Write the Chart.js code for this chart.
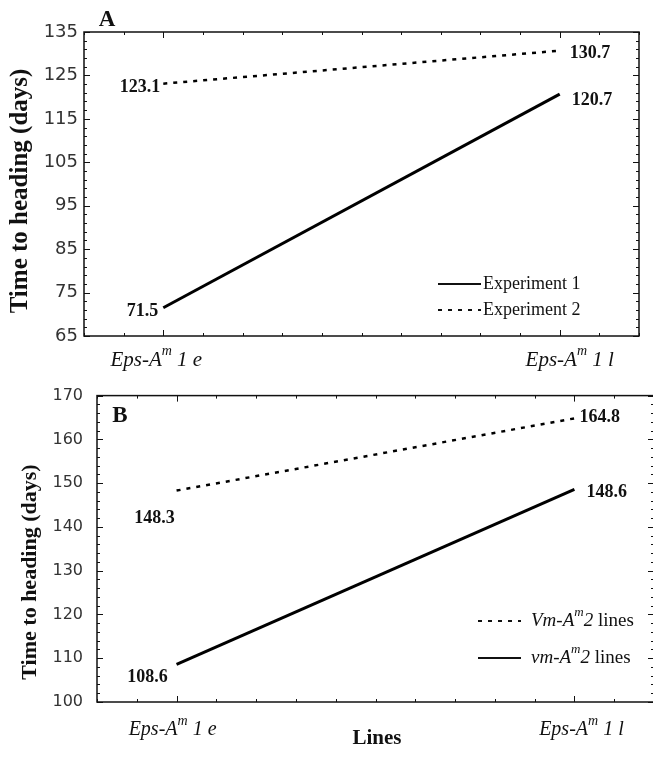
<!DOCTYPE html>
<html>
<head>
<meta charset="utf-8">
<script src="https://cdn.jsdelivr.net/npm/chart.js@4.4.1/dist/chart.umd.min.js"></script>
<style>
  html, body { margin: 0; padding: 0; background: #fff; width: 653px; height: 767px; overflow: hidden; }
  .panel { position: absolute; left: 0; }
</style>
</head>
<body>
<div class="panel" style="top:0"><canvas id="chartA" width="653" height="372"></canvas></div>
<div class="panel" style="top:372px"><canvas id="chartB" width="656" height="395"></canvas></div>
<script>
// x positions of the two Eps-Am1 lines and their tick labels (*...* = italic, ^m = superscript)
const lineCategories = [0, 1];
const tickLabels = ['*Eps-A^m 1 e*', '*Eps-A^m 1 l*'];

// Panel A
const exp1Values = [71.5, 120.7];
const exp2Values = [123.1, 130.7];
const panelALabels = ['Experiment 1', 'Experiment 2'];
const panelAYTicks = [65, 135];

// Panel B
const vmUpperValues = [148.3, 164.8];
const vmLowerValues = [108.6, 148.6];
const panelBLabels = ['*Vm-A^m2* lines', '*vm-A^m2* lines'];
const panelBYTicks = [100, 170];

const SERIF = '"Liberation Serif", "Times New Roman", serif';

function pts(values) {
  return values.map((v, i) => ({ x: lineCategories[i], y: v }));
}

// split "*Eps-A^m 1 e*" into runs
function parseRich(text) {
  const parts = [];
  let italic = false;
  for (let i = 0; i < text.length; i++) {
    const c = text[i];
    if (c === '*') { italic = !italic; continue; }
    if (c === '^') { parts.push({ t: text[++i], italic, sup: true }); continue; }
    const last = parts[parts.length - 1];
    if (last && !last.sup && last.italic === italic) last.t += c;
    else parts.push({ t: c, italic, sup: false });
  }
  return parts;
}

function drawRich(ctx, text, x, y, size, align, weight) {
  const parts = parseRich(text);
  const fontFor = p => `${p.italic ? 'italic ' : ''}${weight || 'normal'} ${p.sup ? Math.round(size * 0.68) : size}px ${SERIF}`;
  let w = 0;
  parts.forEach(p => { ctx.font = fontFor(p); p.w = ctx.measureText(p.t).width; w += p.w; });
  let cx = align === 'center' ? x - w / 2 : align === 'right' ? x - w : x;
  ctx.textAlign = 'left';
  ctx.textBaseline = 'middle';
  parts.forEach(p => {
    ctx.font = fontFor(p);
    ctx.fillText(p.t, cx, p.sup ? y - size * 0.42 : y);
    cx += p.w;
  });
}

const panelDecor = {
  id: 'panelDecor',
  afterDatasetsDraw(chart, args, opts) {
    const { ctx, chartArea: a, scales: { x, y } } = chart;
    ctx.save();
    ctx.fillStyle = '#111';
    ctx.strokeStyle = '#111';

    // frame
    ctx.lineWidth = 1.5;
    ctx.strokeRect(a.left, a.top, a.right - a.left, a.bottom - a.top);

    // inward tick marks on all four sides
    ctx.lineWidth = 1;
    ctx.beginPath();
    for (let v = y.min; v <= y.max + 0.001; v += 2) {
      const py = Math.round(y.getPixelForValue(v)) + 0.5;
      const len = (v - y.min) % 10 === 0 ? 6 : 3;
      ctx.moveTo(a.left, py); ctx.lineTo(a.left + len, py);
      ctx.moveTo(a.right, py); ctx.lineTo(a.right - len, py);
    }
    for (let v = -0.2; v <= 1.2 + 0.001; v += 0.1) {
      const px = Math.round(x.getPixelForValue(v)) + 0.5;
      const len = Math.abs(v - Math.round(v)) < 0.01 ? 6 : 3;
      ctx.moveTo(px, a.bottom); ctx.lineTo(px, a.bottom - len);
      ctx.moveTo(px, a.top); ctx.lineTo(px, a.top + len);
    }
    ctx.stroke();

    // x tick labels
    tickLabels.forEach((t, i) => {
      drawRich(ctx, t, x.getPixelForValue(lineCategories[i]) + opts.tickDx[i], opts.tickY, opts.tickSize, 'center');
    });

    // value labels next to line ends
    chart.data.datasets.forEach((ds, di) => {
      const meta = chart.getDatasetMeta(di);
      ds.data.forEach((d, i) => {
        const p = meta.data[i];
        const lab = opts.valueLabels[di][i];
        drawRich(ctx, d.y.toFixed(1), p.x + lab.dx, p.y + lab.dy, opts.valueSize, lab.align, 'bold');
      });
    });

    // legend inside the plot
    opts.legend.forEach(item => {
      const ds = chart.data.datasets[item.ds];
      ctx.beginPath();
      ctx.setLineDash(ds.borderDash || []);
      ctx.lineWidth = ds.borderDash && ds.borderDash.length ? 2 : 2.2;
      ctx.moveTo(opts.legendLine[0], item.y);
      ctx.lineTo(opts.legendLine[1], item.y);
      ctx.stroke();
      ctx.setLineDash([]);
      drawRich(ctx, ds.label, opts.legendText, item.y, opts.legendSize, 'left');
    });

    // panel letter
    ctx.font = `bold 23px ${SERIF}`;
    ctx.textAlign = 'center';
    ctx.textBaseline = 'middle';
    ctx.fillText(opts.letter, opts.letterPos[0], opts.letterPos[1]);

    // y axis title
    ctx.save();
    ctx.translate(opts.yTitlePos[0], opts.yTitlePos[1]);
    ctx.rotate(-Math.PI / 2);
    ctx.font = `bold ${opts.yTitleSize}px ${SERIF}`;
    ctx.fillText('Time to heading (days)', 0, 0);
    ctx.restore();

    // x axis title
    if (opts.xTitle) {
      ctx.font = `bold 21px ${SERIF}`;
      ctx.fillText(opts.xTitle, opts.xTitlePos[0], opts.xTitlePos[1]);
    }
    ctx.restore();
  }
};

function makeChart(id, datasets, yRange, cfg) {
  return new Chart(document.getElementById(id).getContext('2d'), {
    type: 'line',
    data: { datasets },
    options: {
      responsive: false,
      animation: false,
      devicePixelRatio: 1,
      layout: { padding: cfg.padding },
      elements: { point: { radius: 0 }, line: { tension: 0, borderCapStyle: 'butt' } },
      scales: {
        x: {
          type: 'linear', min: -0.2, max: 1.2,
          ticks: { display: false },
          grid: { display: false, drawTicks: false },
          border: { display: false },
          afterFit: s => { s.height = cfg.xHeight; }
        },
        y: {
          min: yRange[0], max: yRange[1],
          ticks: {
            stepSize: 10, padding: cfg.tickPad, color: '#333',
            font: { family: '"DejaVu Sans", sans-serif', size: cfg.tickFont }
          },
          grid: { display: false, drawTicks: false },
          border: { display: false },
          afterFit: s => { s.width = cfg.yWidth; }
        }
      },
      plugins: {
        legend: { display: false },
        tooltip: { enabled: false },
        panelDecor: cfg.decor
      }
    },
    plugins: [panelDecor]
  });
}

makeChart('chartA', [
  { label: panelALabels[0], data: pts(exp1Values), borderColor: '#000', borderWidth: 3 },
  { label: panelALabels[1], data: pts(exp2Values), borderColor: '#000', borderWidth: 2.5, borderDash: [4, 6] }
], panelAYTicks, {
  padding: { top: 32, right: 14, bottom: 0, left: 0 },
  xHeight: 36, yWidth: 84, tickPad: 6, tickFont: 18,
  decor: {
    letter: 'A', letterPos: [107, 20],
    yTitlePos: [21, 191], yTitleSize: 25,
    tickY: 360, tickSize: 21, tickDx: [-7, 10], valueSize: 18,
    valueLabels: [
      [{ dx: -5, dy: 4, align: 'right' }, { dx: 12, dy: 6, align: 'left' }],
      [{ dx: -3, dy: 4, align: 'right' }, { dx: 10, dy: 3, align: 'left' }]
    ],
    legend: [{ ds: 0, y: 284 }, { ds: 1, y: 310 }],
    legendLine: [438, 481], legendText: 483, legendSize: 18
  }
});

makeChart('chartB', [
  { label: panelBLabels[0], data: pts(vmUpperValues), borderColor: '#000', borderWidth: 2.5, borderDash: [4, 6] },
  { label: panelBLabels[1], data: pts(vmLowerValues), borderColor: '#000', borderWidth: 3 }
], panelBYTicks, {
  padding: { top: 21, right: 2, bottom: 0, left: 0 },
  xHeight: 65, yWidth: 97, tickPad: 14, tickFont: 16,
  decor: {
    letter: 'B', letterPos: [120, 44],
    yTitlePos: [30, 200], yTitleSize: 22,
    tickY: 358, tickSize: 20, tickDx: [-4, 7], valueSize: 18,
    xTitle: 'Lines', xTitlePos: [377, 367],
    valueLabels: [
      [{ dx: -22, dy: 28, align: 'center' }, { dx: 5, dy: -1, align: 'left' }],
      [{ dx: -29, dy: 13, align: 'center' }, { dx: 12, dy: 3, align: 'left' }]
    ],
    legend: [{ ds: 0, y: 249 }, { ds: 1, y: 286 }],
    legendLine: [478, 521], legendText: 531, legendSize: 19
  }
});
</script>
</body>
</html>
